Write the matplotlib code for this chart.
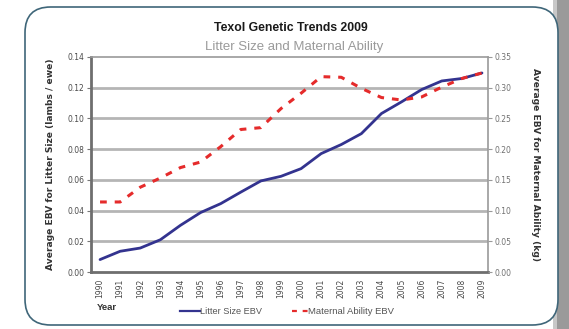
import matplotlib
matplotlib.use("Agg")
import matplotlib.pyplot as plt
from matplotlib.patches import FancyBboxPatch, Rectangle
from matplotlib.lines import Line2D
import numpy as np

years = list(range(1990, 2010))
litter_size = [0.0081, 0.0135, 0.0156, 0.021, 0.0304, 0.0387, 0.0445, 0.052, 0.0593, 0.0623,
               0.0673, 0.0771, 0.083, 0.0901, 0.1032, 0.1108, 0.1188, 0.1244, 0.126, 0.1296]
maternal = [0.114, 0.114, 0.138, 0.153, 0.170, 0.179, 0.204, 0.232, 0.235, 0.266,
            0.291, 0.318, 0.317, 0.299, 0.284, 0.280, 0.285, 0.301, 0.315, 0.324]
left_ticks = [0.00, 0.02, 0.04, 0.06, 0.08, 0.10, 0.12, 0.14]
right_ticks = [0.00, 0.05, 0.10, 0.15, 0.20, 0.25, 0.30, 0.35]

plt.rcParams['font.family'] = ['Liberation Sans', 'DejaVu Sans']
WIDE = ['DejaVu Sans']

W, H = 569, 329
fig = plt.figure(figsize=(W / 100, H / 100), dpi=100)
fig.patch.set_facecolor('white')

# shadow on the right
fig.patches.append(Rectangle((556 / W, 0), (W - 556) / W, 1, transform=fig.transFigure,
                             facecolor='#9a9a9a', edgecolor='none', zorder=0))
fig.patches.append(Rectangle((553 / W, 0), 4 / W, 1, transform=fig.transFigure,
                             facecolor='#c8c8c8', edgecolor='none', zorder=0))
# rounded frame
frame = FancyBboxPatch((25 / W, 4 / H), 533 / W, 318 / H,
                       boxstyle="round,pad=0,rounding_size=0.045",
                       transform=fig.transFigure, facecolor='white',
                       edgecolor='#3f6679', linewidth=1.2, zorder=1,
                       mutation_aspect=W / H)
fig.patches.append(frame)

ax = fig.add_axes([91 / W, 1 - 272 / H, 397 / W, 215 / H])
ax.set_zorder(3)
ax.patch.set_alpha(0)
ax.set_xlim(1989.55, 2009.3)
ax.set_ylim(0, 0.14)
ax.set_yticks(left_ticks)
ax.set_yticklabels([f"{t:.2f}" for t in left_ticks], fontsize=5.5, color='#4a4a4a', family=WIDE)
ax.set_xticks(years)
ax.set_xticklabels([str(y) for y in years], rotation=90, fontsize=5.5, color='#4a4a4a',
                   family=WIDE)
ax.tick_params(axis='both', length=3, width=0.8, color='#777777', pad=2)
ax.tick_params(axis='x', length=0, pad=5)
for t in left_ticks[1:-1]:
    ax.axhline(t, color='#b5b5b5', linewidth=2.0, zorder=1)
for side in ['left', 'bottom']:
    ax.spines[side].set_linewidth(2.0)
    ax.spines[side].set_color('#6e6e6e')
for side in ['top', 'right']:
    ax.spines[side].set_linewidth(1.2)
    ax.spines[side].set_color('#9a9a9a')

ax.plot(years, litter_size, color='#33338f', linewidth=2.0, zorder=4, solid_capstyle='round')
ax.set_ylabel("Average EBV for Litter Size (lambs / ewe)", fontsize=6.6, family=WIDE,
              fontweight='bold', color='#333333', labelpad=9)

ax2 = ax.twinx()
ax2.set_zorder(4)
ax2.set_ylim(0, 0.35)
ax2.set_yticks(right_ticks)
ax2.set_yticklabels([f"{t:.2f}" for t in right_ticks], fontsize=5.5, color='#707070',
                    family=WIDE)
ax2.tick_params(axis='y', length=3, width=0.8, color='#999999', pad=2)
for side in ['left', 'bottom', 'top', 'right']:
    ax2.spines[side].set_visible(False)
ax2.plot(years, maternal, color='#e52b2b', linewidth=2.2, linestyle=(0, (2.2, 2.6)), zorder=5)
ax2.set_ylabel("Average EBV for Maternal Ability (kg)", fontsize=6.6, fontweight='bold',
               family=WIDE, color='#333333', rotation=-90, labelpad=20)

fig.text(291 / W, 1 - 28 / H, "Texol Genetic Trends 2009", ha='center', va='center',
         fontsize=8.8, fontweight='bold', color='#1a1a1a')
fig.text(294 / W, 1 - 47 / H, "Litter Size and Maternal Ability", ha='center', va='center',
         fontsize=9.5, color='#9a9a9a')
fig.text(97 / W, 1 - 307 / H, "Year", ha='left', va='center', fontsize=6.8,
         fontweight='bold', color='#333333')

# legend
fig.lines.append(Line2D([180 / W, 200 / W], [1 - 311 / H, 1 - 311 / H], transform=fig.transFigure,
                        color='#33338f', linewidth=1.6))
fig.text(200 / W, 1 - 311 / H, "Litter Size EBV", ha='left', va='center', fontsize=6.6,
         color='#555555')
fig.lines.append(Line2D([292 / W, 308 / W], [1 - 311 / H, 1 - 311 / H], transform=fig.transFigure,
                        color='#e52b2b', linewidth=1.6, linestyle=(0, (2.2, 2.6))))
fig.text(308 / W, 1 - 311 / H, "Maternal Ability EBV", ha='left', va='center', fontsize=6.8,
         color='#555555')

fig.savefig("out.png", dpi=100)
